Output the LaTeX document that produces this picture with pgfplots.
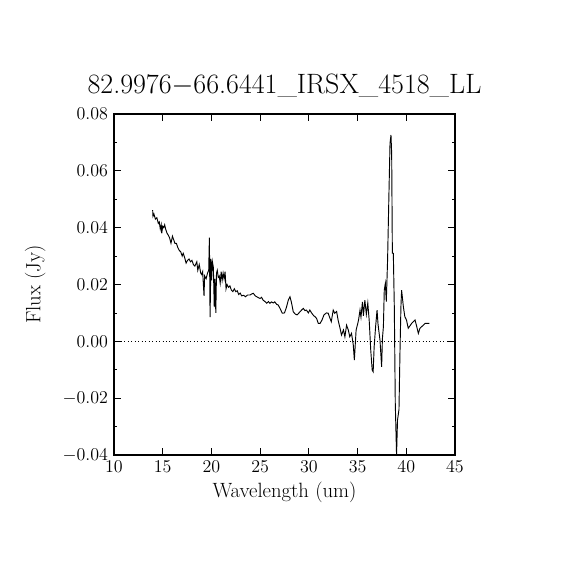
\RequirePackage{fix-cm}
\documentclass[border=0pt]{standalone}
\usepackage{pgfplots}
\pgfplotsset{compat=1.18}
\begin{document}
\begin{tikzpicture}
\begin{axis}[
  scale only axis,
  width=255.75pt, height=255.75pt,
  xmin=10, xmax=45, ymin=-0.04, ymax=0.08,
  xtick={10,15,...,45},
  ytick={-0.04,-0.02,0,0.02,0.04,0.06,0.08},
  minor ytick={-0.03,-0.01,0.01,0.03,0.05,0.07},
  tick align=inside,
  major tick length=5.25pt,
  minor tick length=2.6pt,
  every tick/.style={black, line width=0.6pt},
  axis line style={line width=0.8pt},
  scaled y ticks=false,
  yticklabel style={/pgf/number format/fixed, /pgf/number format/fixed zerofill, /pgf/number format/precision=2, xshift=-1pt},
  ticklabel style={font=\fontsize{13.5}{15}\selectfont},
  xticklabel style={yshift=-1pt},
  xlabel={Wavelength (um)},
  ylabel={Flux (Jy)},
  label style={font=\fontsize{15.5}{17}\selectfont},
  title={82.9976$-$66.6441\_IRSX\_4518\_LL},
  title style={font=\fontsize{21}{23}\selectfont, yshift=3pt},
  xlabel style={yshift=0pt},
  ylabel style={yshift=6pt},
]
\addplot[black, line width=0.6pt, dotted, forget plot] coordinates {(10,0) (45,0)};
\addplot[black, line width=0.7pt, mark=none] coordinates {
(13.97,0.0462) (14.0,0.0440) (14.1,0.0448) (14.25,0.0430) (14.4,0.0435)
(14.55,0.0415) (14.65,0.0420) (14.75,0.0395) (14.85,0.0410) (14.9,0.0380)
(15.0,0.0405) (15.1,0.0400) (15.2,0.0410) (15.3,0.0395) (15.45,0.0380)
(15.55,0.0375) (15.7,0.0365) (15.85,0.0345) (16.0,0.0370) (16.1,0.0360)
(16.25,0.0345) (16.4,0.0345) (16.55,0.0330) (16.7,0.0320) (16.85,0.0315)
(17.0,0.0300) (17.1,0.0310) (17.25,0.0295) (17.4,0.0275) (17.55,0.0285)
(17.7,0.0290) (17.85,0.0280) (18.0,0.0285) (18.15,0.0270) (18.3,0.0265)
(18.5,0.0280) (18.6,0.0250) (18.75,0.0270) (18.9,0.0240) (19.0,0.0235)
(19.1,0.0245) (19.24,0.0160) (19.3,0.0230) (19.45,0.0220) (19.6,0.0240)
(19.72,0.0250) (19.79,0.0365) (19.86,0.0085) (19.95,0.0290) (20.02,0.0215)
(20.1,0.0280) (20.2,0.0260) (20.29,0.0120) (20.36,0.0220) (20.45,0.0100)
(20.52,0.0240) (20.6,0.0250) (20.7,0.0225) (20.8,0.0230) (20.9,0.0205)
(21.0,0.0245) (21.1,0.0215) (21.2,0.0240) (21.3,0.0220) (21.4,0.0245)
(21.5,0.0185) (21.6,0.0200) (21.75,0.0190) (21.9,0.0195) (22.05,0.0180)
(22.2,0.0175) (22.35,0.0185) (22.5,0.0175) (22.65,0.0178) (22.8,0.0165)
(22.95,0.0170) (23.1,0.0160) (23.3,0.0162) (23.5,0.0157) (23.7,0.0163)
(23.96,0.0163) (24.15,0.0167) (24.3,0.0169) (24.5,0.0160) (24.65,0.0157)
(24.85,0.0153) (25.0,0.0151) (25.15,0.0155) (25.3,0.0145) (25.5,0.0140)
(25.67,0.0134) (25.85,0.0140) (26.0,0.0134) (26.15,0.0139) (26.35,0.0135)
(26.5,0.0139) (26.7,0.0130) (26.85,0.0128) (27.04,0.0116) (27.27,0.0099)
(27.5,0.0100) (27.7,0.0120) (27.89,0.0145) (28.06,0.0157) (28.2,0.0139)
(28.4,0.0104) (28.6,0.0096) (28.8,0.0093) (29.09,0.0104) (29.25,0.0110)
(29.43,0.0116) (29.6,0.0108) (29.75,0.0110) (29.95,0.0100) (30.1,0.0110)
(30.3,0.0099) (30.5,0.0090) (30.63,0.0087) (30.8,0.0080) (30.97,0.0063)
(31.15,0.0063) (31.35,0.0075) (31.55,0.0093) (31.8,0.0100) (31.98,0.0099)
(32.17,0.0081) (32.3,0.0069) (32.5,0.0110) (32.65,0.0099) (32.85,0.0105)
(33.0,0.0075) (33.2,0.0046) (33.35,0.0022) (33.55,0.0040) (33.7,0.0016)
(33.87,0.0057) (34.05,0.0040) (34.2,0.0016) (34.38,0.0028) (34.56,-0.0013)
(34.67,-0.0066) (34.85,0.0040) (35.0,0.0060) (35.1,0.0075) (35.25,0.0110)
(35.35,0.0085) (35.5,0.0139) (35.6,0.0090) (35.75,0.0145) (35.9,0.0095)
(36.05,0.0135) (36.2,0.0070) (36.35,-0.0030) (36.5,-0.0101) (36.6,-0.0107)
(36.7,-0.0020) (36.85,0.0051) (37.0,0.0110) (37.1,0.0060) (37.3,0.0005)
(37.47,-0.0090) (37.55,0.0010) (37.65,0.0051) (37.74,0.0180) (37.85,0.0204)
(37.95,0.0140) (38.08,0.0286) (38.22,0.0520) (38.33,0.0697) (38.43,0.0726)
(38.5,0.0660) (38.57,0.0310) (38.67,0.0310) (38.77,0.0122) (38.87,-0.0218)
(39.0,-0.0400) (39.1,-0.0277) (39.25,-0.0240) (39.35,-0.0042) (39.45,0.0122)
(39.52,0.0180) (39.7,0.0122) (39.85,0.0087) (40.02,0.0075) (40.2,0.0046)
(40.55,0.0063) (40.9,0.0075) (41.05,0.0055) (41.24,0.0028) (41.4,0.0046)
(41.75,0.0057) (41.92,0.0063) (42.36,0.0063)
};
\coordinate (bl) at (rel axis cs:0,0);
\coordinate (tr) at (rel axis cs:1,1);
\end{axis}
\path ([shift={(-85.5pt,-86.25pt)}]bl) rectangle ([shift={(86.25pt,85.5pt)}]tr);
\end{tikzpicture}
\end{document}
